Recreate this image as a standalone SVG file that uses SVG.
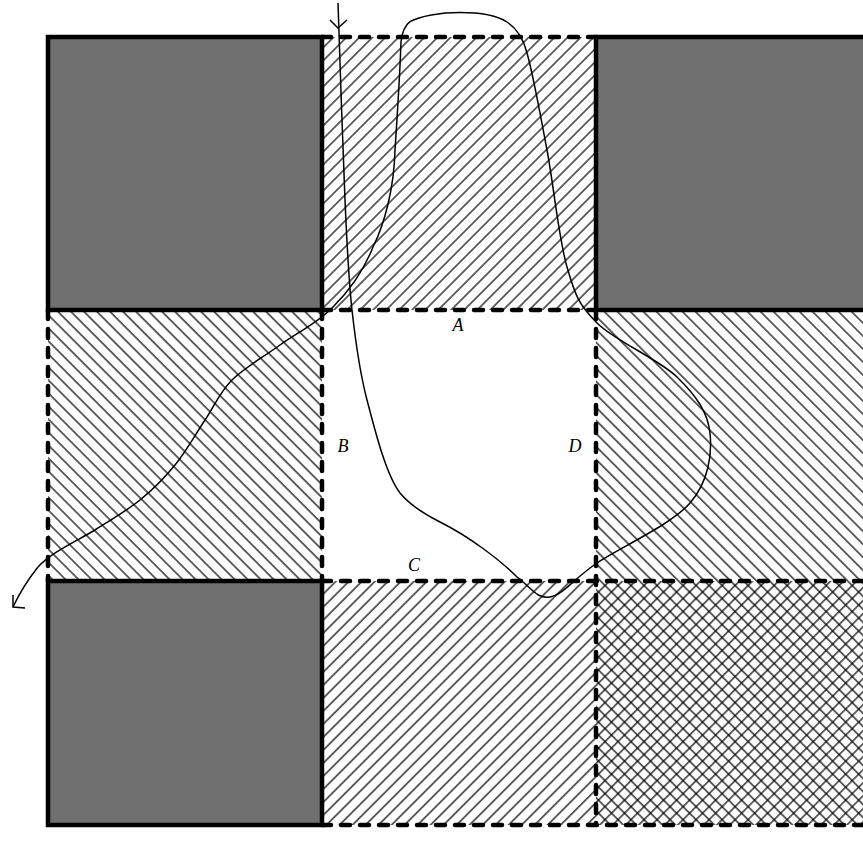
<svg xmlns="http://www.w3.org/2000/svg" width="863" height="854" viewBox="0 0 863 854">
<style>
.gray{fill:#707070;stroke:none}
.solid{fill:none;stroke:#000;stroke-width:4.5;stroke-linecap:square}
.dash{fill:none;stroke:#000;stroke-width:4.5;stroke-linecap:round;stroke-dasharray:9 10}
.curve{fill:none;stroke:#000;stroke-width:1.5}
.lbl{font-family:"Liberation Serif",serif;font-style:italic;font-size:18px;text-anchor:middle;fill:#000}
</style>
<defs>
<pattern id="hf" patternUnits="userSpaceOnUse" width="9.2" height="9.2" patternTransform="rotate(45)"><line x1="4.6" y1="-1" x2="4.6" y2="10.2" stroke="#000" stroke-width="1.2"/></pattern>
<pattern id="hb" patternUnits="userSpaceOnUse" width="9.2" height="9.2" patternTransform="rotate(-45)"><line x1="4.6" y1="-1" x2="4.6" y2="10.2" stroke="#000" stroke-width="1.2"/></pattern>
</defs>
<rect width="863" height="854" fill="#fff"/>
<g id="cells">
<rect id="tl" class="gray" x="48" y="37" width="274" height="273"/>
<rect id="tr" class="gray" x="596" y="37" width="280" height="273"/>
<rect id="bl" class="gray" x="48" y="581" width="274" height="244"/>
<rect id="tm" x="322" y="37" width="274" height="273" fill="url(#hf)"/>
<rect id="ml" x="48" y="310" width="274" height="271" fill="url(#hb)"/>
<rect id="mr" x="596" y="310" width="280" height="271" fill="url(#hb)"/>
<rect id="bm" x="322" y="581" width="274" height="244" fill="url(#hf)"/>
<rect id="br" x="596" y="581" width="280" height="244" fill="url(#hf)"/>
<rect x="596" y="581" width="280" height="244" fill="url(#hb)"/>
</g>
<g id="grid">
<path class="dash" d="M322,37H596 M322,310H596 M322,581H870 M322,825H870 M48,310V581 M322,310V581 M596,310V825"/>
<path class="solid" d="M48,37H322V310H48Z M48,581H322V825H48Z M870,37H596V310H870"/>
</g>
<g id="connectors">
<path class="curve" d="M338,3 C339.2,35.8 342.7,148.8 345,200 C347.3,251.2 348.3,276.7 352,310 C355.7,343.3 359,369.5 367,400 C375,430.5 386,475 400,493 C410,505 422,513 440,522 C470,537 500,560 517,577 C531.5,587.7 536.7,599.3 550,597 C563.3,594.7 573.7,578.7 597,563 C620.3,547.3 671.2,524.7 690,503 C708.8,481.3 712.2,454 710,433 C707.8,412 695.8,395.3 677,377 C658.2,358.7 615.3,341.3 597,323 C578.7,304.7 575.3,295.8 567,267 C558.7,238.2 553.7,185.7 547,150 C540.3,114.3 533,74 527,53 C523,37 516,28 507,22 C498,16 480,12.5 460,12.5 C440,12.5 420,16 410,21.7 C404,26 402,33 401,42 C400,70 397,120 395,150 C394,190 384,225 373,247 C364,270 350,290 333,307 C317.5,323.3 296.8,332.8 280,345 C263.2,357.2 244.5,367.5 232,380 C219.5,392.5 214.5,405.8 205,420 C195.5,434.2 185.8,451.7 175,465 C164.2,478.3 153.3,489.2 140,500 C126.7,510.8 110,520.3 95,530 C75,542 52,552 38,567 C30,577 20,592 13,607"/>
<path class="curve" d="M330,20 L338,28 L347,20"/>
<path class="curve" d="M13,595 L13,607 L25,608"/>
</g>
<g id="labels">
<text class="lbl" x="458" y="331">A</text>
<text class="lbl" x="343" y="452">B</text>
<text class="lbl" x="414" y="571">C</text>
<text class="lbl" x="575" y="452">D</text>
</g>
</svg>
